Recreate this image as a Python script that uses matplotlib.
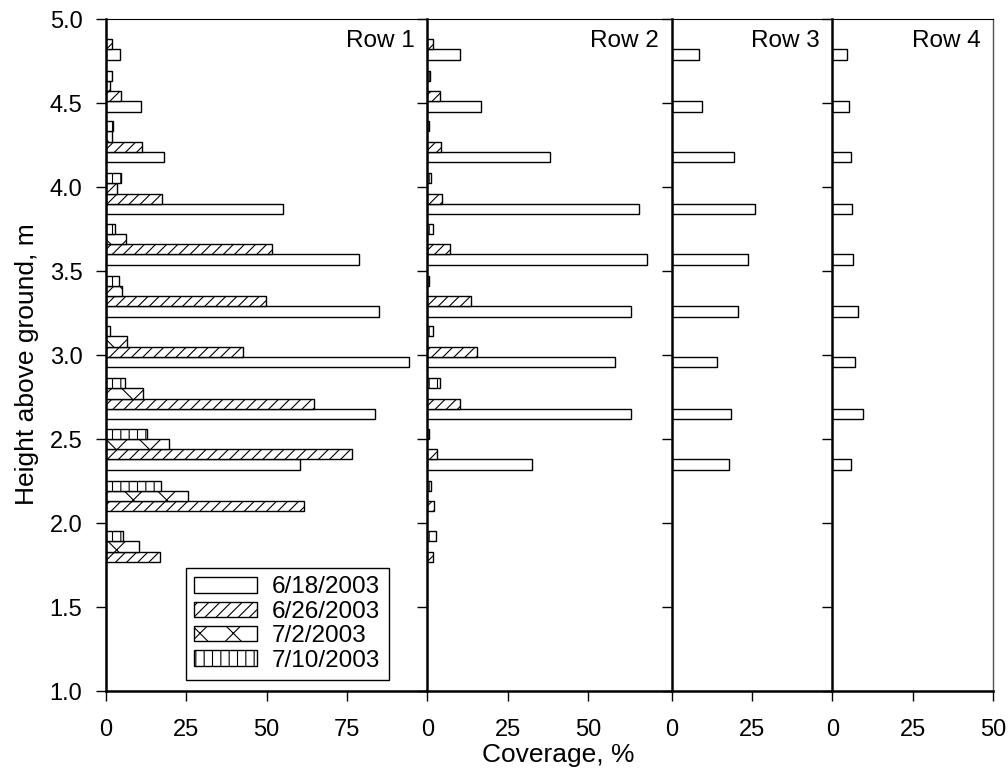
import numpy as np
import matplotlib.pyplot as plt

plt.rcParams['font.family'] = ['Liberation Sans', 'DejaVu Sans']
plt.rcParams['hatch.linewidth'] = 0.8

# heights of the sampling levels (m), 6 ft .. 16 ft
heights = [1.83, 2.13, 2.44, 2.74, 3.05, 3.35, 3.66, 3.96, 4.27, 4.57, 4.88]
dates = ['6/18/2003', '6/26/2003', '7/2/2003', '7/10/2003']
hatches = ['', '///', 'x', '||']

# coverage (%) per date, bottom level first
row1_0618 = [0, 0, 60.4, 83.8, 94.2, 84.8, 78.6, 55.1, 18.1, 10.8, 4.3]
row1_0626 = [16.8, 61.6, 76.7, 64.8, 42.7, 49.7, 51.5, 17.5, 11.1, 4.8, 1.8]
row1_0702 = [10.3, 25.6, 19.6, 11.5, 6.6, 5.1, 6.3, 3.5, 2.0, 1.4, 0]
row1_0710 = [5.4, 17.0, 12.9, 5.9, 1.4, 4.0, 2.8, 4.6, 2.3, 2.0, 0]

row2_0618 = [0, 0, 32.6, 63.3, 58.5, 63.5, 68.4, 66.0, 38.2, 16.7, 10.1]
row2_0626 = [1.8, 2.2, 3.1, 10.2, 15.5, 13.6, 6.9, 4.5, 4.2, 3.9, 1.6]
row2_0710 = [2.7, 1.1, 0.5, 3.9, 1.9, 0.5, 1.6, 1.2, 0.6, 0.8, 0]

row3_0618 = [0, 0, 18.0, 18.5, 14.1, 20.6, 23.7, 25.8, 19.3, 9.4, 8.6]
row4_0618 = [0, 0, 5.8, 9.4, 7.0, 8.0, 6.3, 6.2, 5.8, 5.2, 4.5]

panels = [
    ('Row 1', {0: row1_0618, 1: row1_0626, 2: row1_0702, 3: row1_0710}, 100, [0, 25, 50, 75]),
    ('Row 2', {0: row2_0618, 1: row2_0626, 3: row2_0710}, 76, [0, 25, 50]),
    ('Row 3', {0: row3_0618}, 50, [0, 25]),
    ('Row 4', {0: row4_0618}, 50, [0, 25, 50]),
]

fig, axes = plt.subplots(1, 4, figsize=(10.08, 7.74), dpi=100, sharey=True,
                         gridspec_kw={'width_ratios': [p[2] for p in panels], 'wspace': 0})
fig.subplots_adjust(left=106/1008, right=993/1008, top=1-19/774, bottom=1-691/774)

bar_h = 0.061
for k, (ax, (name, series, xmax, xticks)) in enumerate(zip(axes, panels)):
    for i, date in enumerate(dates):
        if i not in series:
            continue
        v = np.array(series[i], dtype=float)
        v[v == 0] = np.nan
        y = np.array(heights) + (i - 1.5) * bar_h
        ax.barh(y, v, height=bar_h, color='white', edgecolor='black',
                linewidth=1.0, hatch=hatches[i], label=date)
    ax.set_xlim(0, xmax)
    ax.set_xticks(xticks)
    ax.set_ylim(1, 5)
    ax.set_yticks(np.arange(1, 5.01, 0.5))
    ax.yaxis.set_major_formatter(plt.FormatStrFormatter('%.1f'))
    ax.tick_params(direction='out', length=7, width=1, labelsize=17)
    ax.tick_params(axis='x', pad=13)
    ax.tick_params(axis='y', pad=10)
    if k > 0:
        ax.tick_params(axis='y', labelleft=False)
    ax.spines['left'].set_linewidth(1.8)
    ax.spines['bottom'].set_linewidth(1.8)
    ax.spines['top'].set_linewidth(0.8)
    if k < 3:
        ax.spines['right'].set_visible(False)
    else:
        ax.spines['right'].set_linewidth(1.0)
        ax.spines['right'].set_color('#555555')
    ax.annotate(name, xy=(1, 1), xycoords='axes fraction', xytext=(-9, -8),
                textcoords='offset points', ha='right', va='top', fontsize=17.5)

leg = axes[0].legend(loc='lower left', bbox_to_anchor=(0.248, 0.016), borderaxespad=0,
                     fontsize=17.5, fancybox=False, edgecolor='black', framealpha=1,
                     handlelength=2.6, handleheight=0.6, handletextpad=0.6,
                     labelspacing=0.1, borderpad=0.35)
leg.get_frame().set_linewidth(1.0)

fig.text(0.554, 0.025, 'Coverage, %', ha='center', va='center', fontsize=19)
fig.text(0.027, 0.53, 'Height above ground, m', ha='center', va='center',
         rotation=90, fontsize=19)

fig.savefig('out.png', dpi=100)
